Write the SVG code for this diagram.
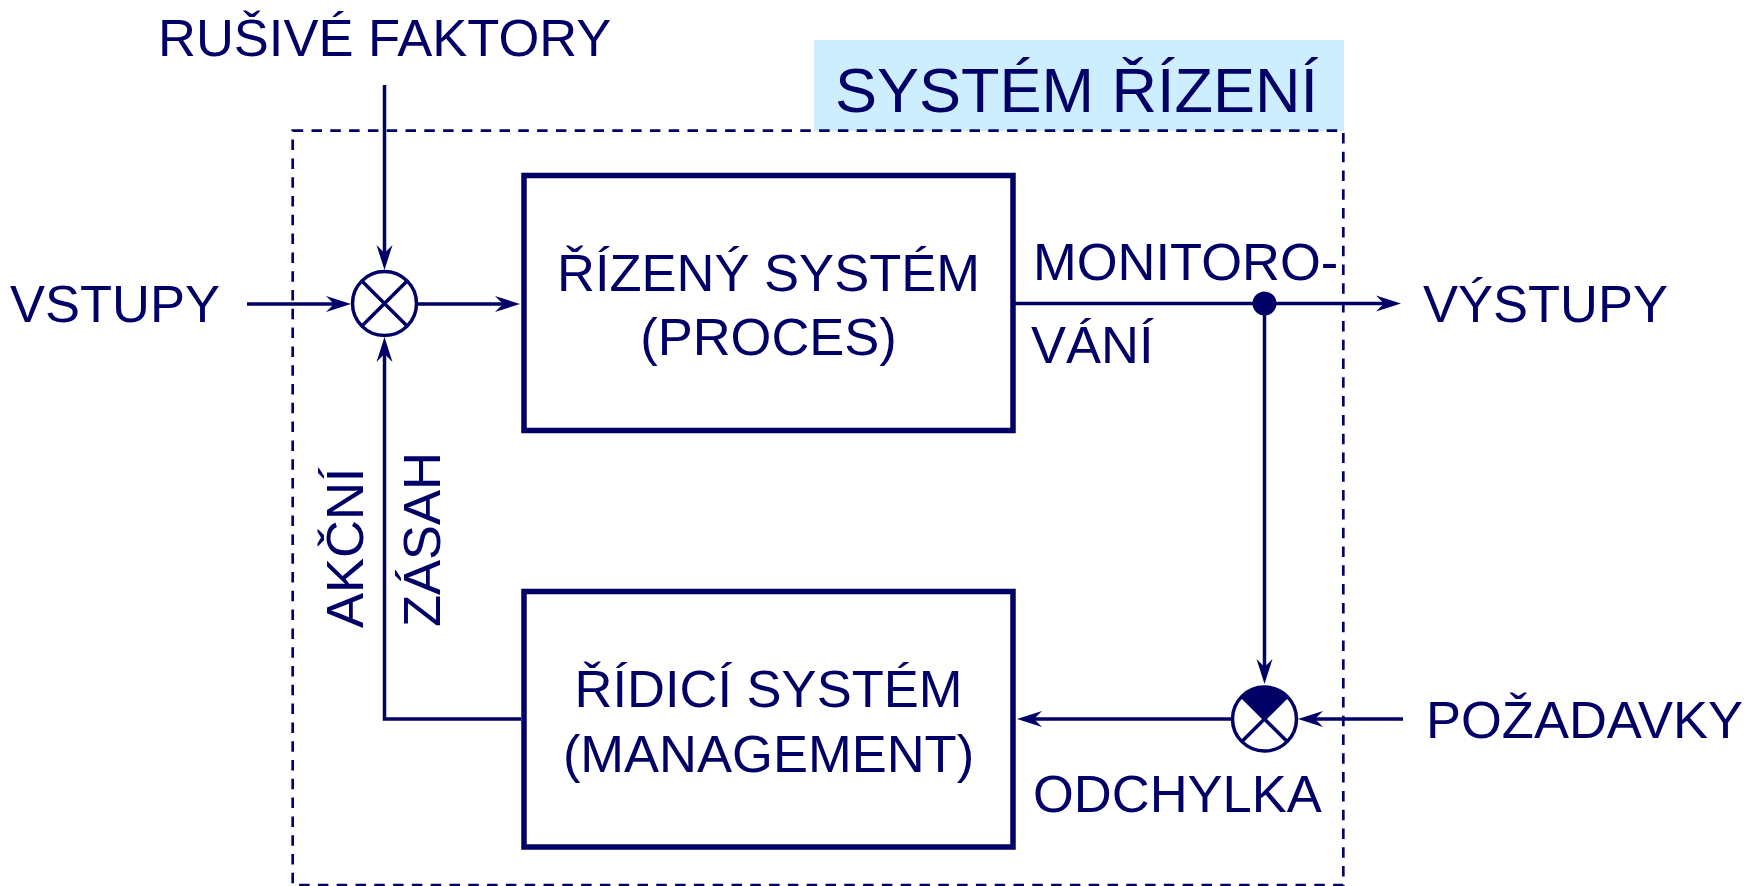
<svg xmlns="http://www.w3.org/2000/svg" width="1764" height="886" viewBox="0 0 1764 886">
<style>
  text { font-family: "Liberation Sans", Arial, sans-serif; font-size: 52.5px; fill: #000066; }
  .c { text-anchor: middle; }
  .box { fill: #ffffff; stroke: #000066; stroke-width: 5.5; }
  .ln { fill: none; stroke: #000066; stroke-width: 3.5; }
  .arr { marker-end: url(#ah); }
  .sum { fill: #ffffff; stroke: #000066; stroke-width: 3.5; }
</style>
<defs>
  <marker id="ah" markerUnits="userSpaceOnUse" viewBox="-40 -10 42 20" refX="-12" refY="0" markerWidth="42" markerHeight="20" orient="auto" overflow="visible">
    <path d="M0,0 L-25,-8 L-17,0 L-25,8 Z" fill="#000066"/>
  </marker>
</defs>

<g id="frame">
  <rect x="814" y="40" width="530" height="91" fill="#CCEEFF"/>
  <text x="835" y="112" style="font-size:63px">SYSTÉM ŘÍZENÍ</text>
  <rect x="292.7" y="130.7" width="1050.6" height="754.5" fill="none" stroke="#000066" stroke-width="2.7" stroke-dasharray="10.5 8.3"/>
</g>

<g id="connectors">
  <line class="ln arr" x1="247" y1="304" x2="339" y2="304"/>
  <line class="ln arr" x1="418" y1="304" x2="508" y2="304"/>
  <line class="ln arr" x1="384.5" y1="85" x2="384.5" y2="258"/>
  <polyline class="ln arr" points="521,719 384.5,719 384.5,349"/>
  <line class="ln arr" x1="1013" y1="303.5" x2="1389" y2="303.5"/>
  <line class="ln arr" x1="1264.5" y1="303.5" x2="1264.5" y2="672"/>
  <line class="ln arr" x1="1403" y1="719" x2="1310" y2="719"/>
  <line class="ln arr" x1="1231" y1="719" x2="1029" y2="719"/>
  <circle cx="1264.5" cy="303.5" r="12" fill="#000066"/>
</g>

<g id="sum1">
  <circle class="sum" cx="384.5" cy="303.5" r="32"/>
  <path class="ln" d="M361.9,280.9 L407.1,326.1 M407.1,280.9 L361.9,326.1"/>
</g>

<g id="sum2">
  <circle class="sum" cx="1264.5" cy="719" r="32"/>
  <path d="M1264.5,719 L1241.9,696.4 A32,32 0 0 1 1287.1,696.4 Z" fill="#000066"/>
  <path class="ln" d="M1241.9,696.4 L1287.1,741.6 M1287.1,696.4 L1241.9,741.6"/>
</g>

<g id="process">
  <rect class="box" x="524" y="175.5" width="489" height="255"/>
  <text class="c" x="768.5" y="291">ŘÍZENÝ SYSTÉM</text>
  <text class="c" x="768.5" y="355">(PROCES)</text>
</g>

<g id="control">
  <rect class="box" x="524" y="591.5" width="489" height="255.5"/>
  <text class="c" x="768.5" y="707">ŘÍDICÍ SYSTÉM</text>
  <text class="c" x="768.5" y="772">(MANAGEMENT)</text>
</g>

<g id="labels">
  <text x="158" y="56">RUŠIVÉ FAKTORY</text>
  <text x="10" y="322">VSTUPY</text>
  <text x="1033" y="280">MONITORO-</text>
  <text x="1031" y="363">VÁNÍ</text>
  <text x="1423" y="322">VÝSTUPY</text>
  <text transform="translate(363,628) rotate(-90)">AKČNÍ</text>
  <text transform="translate(440,627) rotate(-90)">ZÁSAH</text>
  <text x="1426" y="738">POŽADAVKY</text>
  <text x="1033" y="812">ODCHYLKA</text>
</g>
</svg>
